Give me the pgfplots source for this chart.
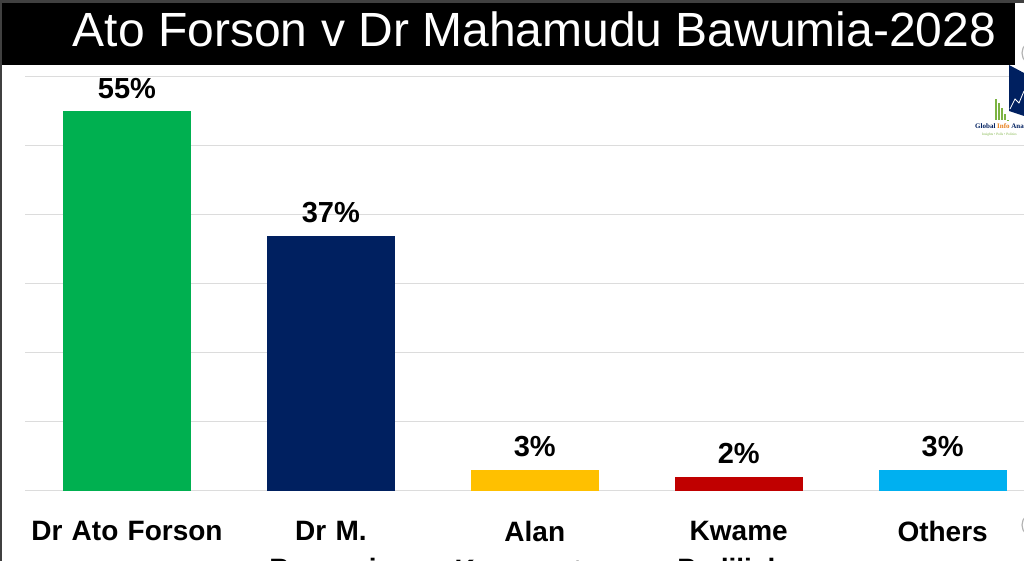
\documentclass[border=0pt]{standalone}
\usepackage{fontspec}
\setmainfont{Liberation Sans}
\newfontfamily\logofont{Liberation Serif}
\usepackage{pgfplots}
\pgfplotsset{compat=1.18}

\definecolor{forsongreen}{HTML}{00B050}
\definecolor{bawumianavy}{HTML}{002060}
\definecolor{alanyellow}{HTML}{FFC000}
\definecolor{kwamered}{HTML}{C00000}
\definecolor{othersblue}{HTML}{00B0F0}
\definecolor{gridgray}{HTML}{DCDCDC}
\definecolor{framegray}{HTML}{404040}
\definecolor{logogreen}{HTML}{7CB342}
\definecolor{logoorange}{HTML}{E8801A}

\begin{document}
\begin{tikzpicture}[x=1pt,y=1pt]
% page is 1024 x 561, 1pt per pixel
\path[use as bounding box] (0,0) rectangle (1024,561);
\clip (0,0) rectangle (1024,561);
\fill[white] (0,0) rectangle (1024,561);

% title bar
\fill[black] (0,496) rectangle (1015,558);
\fill[framegray] (0,558) rectangle (1024,561);
\fill[framegray] (0,0) rectangle (2,561);
\node[anchor=base, text=white, inner sep=0pt, font=\fontsize{48}{56}\selectfont]
  at (534.5,514) {Ato Forson v Dr Mahamudu Bawumia-2028};

\begin{axis}[
  at={(25pt,70pt)}, anchor=south west,
  scale only axis, width=999pt, height=414pt,
  ybar, bar width=128pt, bar shift=0pt,
  xmin=-0.5, xmax=4.399,
  ymin=0, ymax=60,
  ytick={0,10,...,60}, yticklabels={},
  ymajorgrids, grid style={gridgray, line width=1pt},
  axis line style={draw=none},
  major tick length=0pt,
  xtick={0,1,2,3,4},
  xticklabels={{Dr Ato Forson},{Dr M.\\Bawumia},{Alan\\Kyerematen},{Kwame\\Pediliaku},{Others}},
  xticklabel style={font=\bfseries\fontsize{28}{38}\selectfont, align=center,
    text width=220pt, inner sep=0pt, yshift=-30pt},
  clip=false,
  /pgf/number format/assume math mode=true,
  nodes near coords={\pgfmathprintnumber{\pgfplotspointmeta}\%},
  nodes near coords style={font=\bfseries\fontsize{29}{33}\selectfont, text=black,
    anchor=south, inner sep=0pt, yshift=13pt},
]
\addplot[fill=forsongreen, draw=none] coordinates {(0,55)};
\addplot[fill=bawumianavy, draw=none] coordinates {(1,37)};
\addplot[fill=alanyellow, draw=none] coordinates {(2,3)};
\addplot[fill=kwamered, draw=none] coordinates {(3,2)};
\addplot[fill=othersblue, draw=none] coordinates {(4,3)};
\end{axis}

% logo at the top right
\foreach \lx/\ly in {995/462,998/458,1001/453,1004/447,1007/440}
  \fill[logogreen] (\lx,441) rectangle ++(1.8,{\ly-441});
\fill[bawumianavy] (1009,496) -- (1024,488) -- (1024,445) -- (1009,450) -- cycle;
\draw[white, line width=0.8pt] (1010,452) -- (1015,462) -- (1019,458) -- (1024,470);
\node[anchor=west, inner sep=0pt, font=\logofont\bfseries\fontsize{7}{8}\selectfont]
  at (975,434) {\textcolor{bawumianavy}{Global} \textcolor{logoorange}{Info} \textcolor{bawumianavy}{Analytics}};
\node[anchor=west, inner sep=0pt, font=\logofont\fontsize{3.5}{4}\selectfont, text=logogreen]
  at (982,426) {Insights \textbullet\ Polls \textbullet\ Politics};
% stray round buttons cut at the right edge
\draw[gray!60, line width=1.2pt] (1034,36) circle (12);
\draw[gray!60, line width=1.2pt] (1034,508) circle (12);
\end{tikzpicture}
\end{document}
